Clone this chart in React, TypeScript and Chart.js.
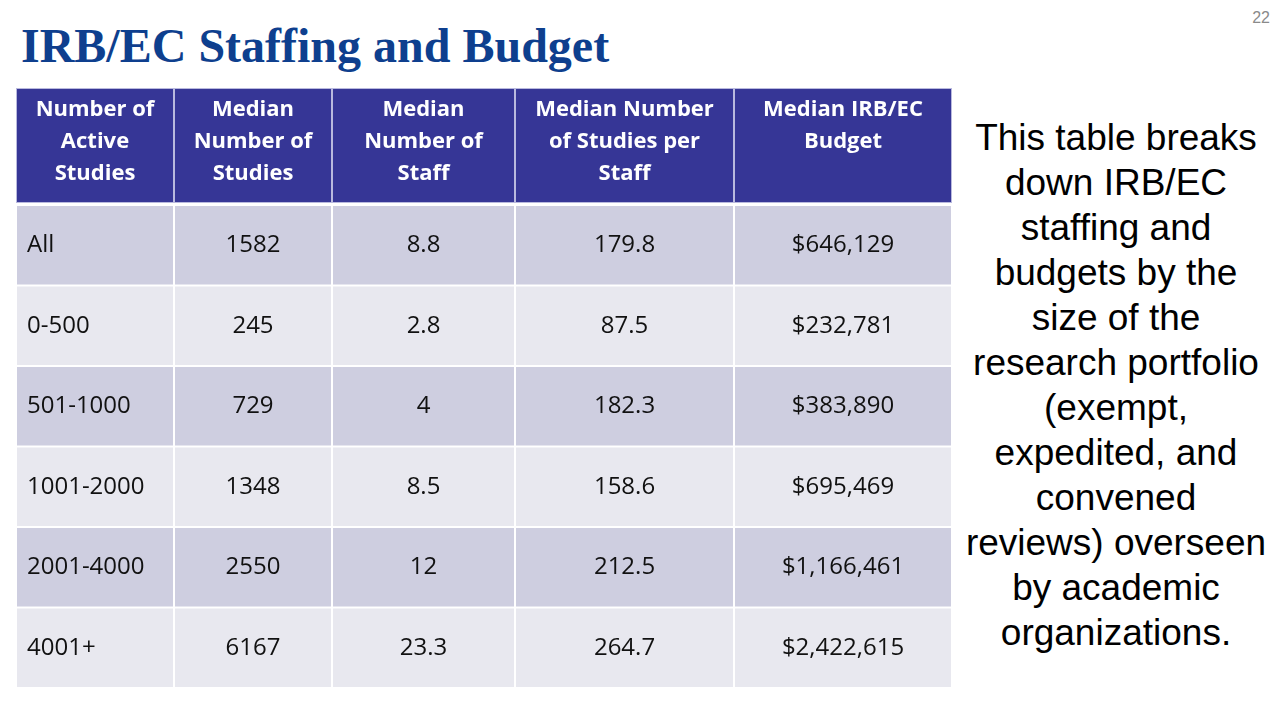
import React, { useEffect, useRef } from "react";
import { Chart, registerables } from "chart.js";

Chart.register(...registerables);

// ---- data ----
const ROW_LABELS = ["All", "0-500", "501-1000", "1001-2000", "2001-4000", "4001+"];
const MEDIAN_STUDIES = [1582, 245, 729, 1348, 2550, 6167];
const MEDIAN_STAFF = [8.8, 2.8, 4, 8.5, 12, 23.3];
const STUDIES_PER_STAFF = [179.8, 87.5, 182.3, 158.6, 212.5, 264.7];
const MEDIAN_BUDGET = [646129, 232781, 383890, 695469, 1166461, 2422615];
const HEADER_LINES = [
  ["Number of", "Active", "Studies"],
  ["Median", "Number of", "Studies"],
  ["Median", "Number of", "Staff"],
  ["Median Number", "of Studies per", "Staff"],
  ["Median IRB/EC", "Budget"],
];
const TITLE = "IRB/EC Staffing and Budget";
const SIDE_LINES = [
  "This table breaks",
  "down IRB/EC",
  "staffing and",
  "budgets by the",
  "size of the",
  "research portfolio",
  "(exempt,",
  "expedited, and",
  "convened",
  "reviews) overseen",
  "by academic",
  "organizations.",
];
const PAGE_NUMBER = "22";

// ---- layout (not data) ----
const COL_WIDTHS = [158, 158, 183, 219, 218];
const TABLE_W = COL_WIDTHS.reduce((a, b) => a + b, 0);
const HEADER_H = 117;
const ROW_DARK = "#CECEE0";
const ROW_LIGHT = "#E8E8EF";
const HEADER_BG = "#363696";
const BODY_FONT = "24px 'Open Sans'";
const HEAD_FONT = "bold 22px 'Open Sans'";

const columnText = (col: number, row: number): string => {
  switch (col) {
    case 0:
      return ROW_LABELS[row];
    case 1:
      return String(MEDIAN_STUDIES[row]);
    case 2:
      return String(MEDIAN_STAFF[row]);
    case 3:
      return String(STUDIES_PER_STAFF[row]);
    default:
      return "$" + MEDIAN_BUDGET[row].toLocaleString("en-US");
  }
};

const tablePlugin = {
  id: "tablePlugin",
  beforeDatasetsDraw(chart: any) {
    const ctx = chart.ctx as CanvasRenderingContext2D;
    const xs = chart.scales.x;
    const top = chart.chartArea.top;
    let cum = 0;
    ctx.save();
    for (let i = 0; i < COL_WIDTHS.length; i++) {
      const x0 = xs.getPixelForValue(cum);
      cum += COL_WIDTHS[i];
      const x1 = xs.getPixelForValue(cum);
      ctx.fillStyle = HEADER_BG;
      ctx.fillRect(x0, 0, x1 - x0, top - 2);
      ctx.strokeStyle = "rgba(200,200,230,0.9)";
      ctx.lineWidth = 1;
      ctx.strokeRect(x0 + 0.5, 0.5, x1 - x0 - 1, top - 3);
      ctx.fillStyle = "#ffffff";
      ctx.font = HEAD_FONT;
      ctx.textAlign = "center";
      ctx.textBaseline = "middle";
      HEADER_LINES[i].forEach((line, k) => {
        ctx.fillText(line, (x0 + x1) / 2, 22 + k * 32);
      });
    }
    ctx.restore();
  },
  afterDatasetsDraw(chart: any) {
    const ctx = chart.ctx as CanvasRenderingContext2D;
    ctx.save();
    ctx.font = BODY_FONT;
    ctx.fillStyle = "#111111";
    ctx.textBaseline = "middle";
    chart.data.datasets.forEach((_: any, i: number) => {
      const meta = chart.getDatasetMeta(i);
      meta.data.forEach((el: any, j: number) => {
        const left = Math.min(el.base, el.x);
        const right = Math.max(el.base, el.x);
        const txt = columnText(i, j);
        if (i === 0) {
          ctx.textAlign = "left";
          ctx.fillText(txt, left + 11, el.y);
        } else {
          ctx.textAlign = "center";
          ctx.fillText(txt, (left + right) / 2, el.y);
        }
      });
    });
    ctx.restore();
  },
};

function TableChart() {
  const ref = useRef<HTMLCanvasElement>(null);
  useEffect(() => {
    if (!ref.current) return;
    const chart = new Chart(ref.current, {
      type: "bar",
      data: {
        labels: ROW_LABELS,
        datasets: COL_WIDTHS.map((w, i) => ({
          label: HEADER_LINES[i].join(" "),
          data: ROW_LABELS.map(() => w),
          backgroundColor: ROW_LABELS.map((_, j) => (j % 2 === 0 ? ROW_DARK : ROW_LIGHT)),
          borderColor: "#ffffff",
          borderWidth: 1,
          borderSkipped: false,
          inflateAmount: 0,
          barPercentage: 1,
          categoryPercentage: 1,
        })),
      },
      options: {
        indexAxis: "y",
        responsive: false,
        animation: false,
        layout: { padding: { top: HEADER_H, left: 0, right: 0, bottom: 0 } },
        plugins: {
          legend: { display: false },
          tooltip: { enabled: false },
          title: { display: false },
        },
        scales: {
          x: { type: "linear", stacked: true, min: 0, max: TABLE_W, display: false },
          y: { type: "category", stacked: true, display: false },
        },
      },
      plugins: [tablePlugin],
    } as any);
    return () => chart.destroy();
  }, []);
  return (
    <canvas
      ref={ref}
      width={TABLE_W}
      height={600}
      style={{ position: "absolute", left: 16, top: 88, width: TABLE_W, height: 600 }}
    />
  );
}

export default function App() {
  return (
    <div
      style={{
        position: "fixed",
        left: 0,
        top: 0,
        width: 1280,
        height: 720,
        background: "#ffffff",
        overflow: "hidden",
      }}
    >
      <div
        style={{
          position: "absolute",
          left: 21,
          top: 22,
          font: "bold 48px 'Liberation Serif'",
          lineHeight: "48px",
          color: "#0E3F8E",
          whiteSpace: "nowrap",
        }}
      >
        {TITLE}
      </div>
      <div
        style={{
          position: "absolute",
          right: 10,
          top: 8,
          font: "16px 'Liberation Sans'",
          lineHeight: "20px",
          color: "#8A8A8A",
        }}
      >
        {PAGE_NUMBER}
      </div>
      <TableChart />
      <div
        style={{
          position: "absolute",
          left: 956,
          width: 320,
          top: 115,
          font: "37px 'Liberation Sans'",
          lineHeight: "45px",
          color: "#000000",
          textAlign: "center",
          whiteSpace: "nowrap",
        }}
      >
        {SIDE_LINES.map((l, i) => (
          <div key={i}>{l}</div>
        ))}
      </div>
    </div>
  );
}
